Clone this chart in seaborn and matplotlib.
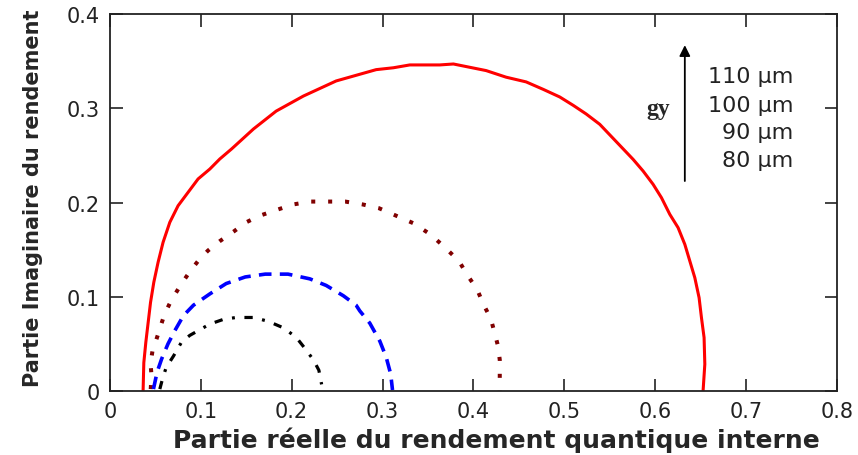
import matplotlib
matplotlib.use("Agg")
import matplotlib.pyplot as plt
import seaborn as sns
import pandas as pd
from matplotlib.ticker import FuncFormatter

# Nyquist-like arcs of the internal quantum efficiency for four base thicknesses
x_110 = [0.0366, 0.0374, 0.0396, 0.0422, 0.0448, 0.0484, 0.0531, 0.0586, 0.0660,
         0.0751, 0.0861, 0.0971, 0.1100, 0.1210, 0.1339, 0.158, 0.183, 0.213,
         0.249, 0.271, 0.293, 0.312, 0.330, 0.363, 0.378, 0.414, 0.436, 0.458,
         0.477, 0.495, 0.510, 0.524, 0.539, 0.5757, 0.5867,
         0.5977, 0.6069, 0.6161, 0.6252, 0.6326, 0.6381, 0.6436, 0.6483, 0.6509,
         0.6538, 0.6546, 0.6527]
y_110 = [0.0, 0.030, 0.0516, 0.0729, 0.0941, 0.1154, 0.1366, 0.1578, 0.1790,
         0.1966, 0.2108, 0.2250, 0.2355, 0.2462, 0.2568, 0.278, 0.297, 0.313,
         0.329, 0.335, 0.341, 0.343, 0.346, 0.346, 0.347, 0.340, 0.333, 0.328,
         0.320, 0.312, 0.303, 0.294, 0.283, 0.2458, 0.2334,
         0.2193, 0.2051, 0.1874, 0.1733, 0.1556, 0.1379, 0.1202, 0.0990, 0.0778,
         0.0566, 0.0284, 0.0003]

x_100 = [0.045, 0.0459, 0.0448, 0.047, 0.051, 0.056, 0.060, 0.066, 0.0726, 0.079,
         0.089, 0.098, 0.108, 0.121, 0.136, 0.150, 0.165, 0.183, 0.202, 0.221,
         0.240, 0.259, 0.278, 0.296, 0.315, 0.334, 0.353, 0.369, 0.384, 0.394,
         0.404, 0.411, 0.419, 0.423, 0.427, 0.429, 0.429, 0.429]
y_100 = [0.002, 0.016, 0.029, 0.043, 0.054, 0.069, 0.081, 0.093, 0.104, 0.114,
         0.128, 0.139, 0.149, 0.159, 0.169, 0.179, 0.186, 0.192, 0.198, 0.201,
         0.201, 0.201, 0.198, 0.194, 0.186, 0.178, 0.166, 0.152, 0.138, 0.122,
         0.108, 0.092, 0.077, 0.063, 0.048, 0.033, 0.018, 0.0]

x_90 = [0.048, 0.052, 0.057, 0.064, 0.0715, 0.081, 0.092, 0.110, 0.128, 0.149,
        0.171, 0.196, 0.220, 0.238, 0.257, 0.271, 0.275, 0.286, 0.297, 0.304,
        0.309, 0.311]
y_90 = [0.002, 0.020, 0.034, 0.050, 0.064, 0.080, 0.091, 0.103, 0.114, 0.121,
        0.124, 0.124, 0.119, 0.112, 0.101, 0.091, 0.085, 0.072, 0.053, 0.036,
        0.018, 0.001]

x_80 = [0.055, 0.058, 0.062, 0.070, 0.079, 0.088, 0.099, 0.110, 0.125, 0.139,
        0.158, 0.174, 0.191, 0.205, 0.214, 0.224, 0.230, 0.233]
y_80 = [0.002, 0.013, 0.025, 0.037, 0.052, 0.059, 0.065, 0.071, 0.076, 0.078,
        0.078, 0.074, 0.067, 0.057, 0.046, 0.033, 0.022, 0.007]

thickness_labels = ["110 µm", "100 µm", "90 µm", "80 µm"]
x_ticks = [0, 0.1, 0.2, 0.3, 0.4, 0.5, 0.6, 0.7, 0.8]
y_ticks = [0, 0.1, 0.2, 0.3, 0.4]

sns.set_style("ticks")
plt.rcParams["font.family"] = ["DejaVu Sans"]

fig = plt.figure(figsize=(8.58, 4.56), dpi=100)
ax = fig.add_axes([0.128, 0.1404, 0.8475, 0.8266])

curves = [
    (x_110, y_110, dict(color="#ff0000", linewidth=2.2, linestyle="-")),
    (x_100, y_100, dict(color="#800000", linewidth=2.9, linestyle=(0, (1, 3.2)),
                        dash_capstyle="butt")),
    (x_90, y_90, dict(color="#0000ff", linewidth=2.6, linestyle=(0, (3.5, 2.3)),
                      dash_capstyle="butt")),
    (x_80, y_80, dict(color="#000000", linewidth=2.3,
                      linestyle=(0, (2.6, 3.0, 0.9, 3.0)), dash_capstyle="butt")),
]
for xs, ys, style in curves:
    df = pd.DataFrame({"re": xs, "im": ys})
    sns.lineplot(data=df, x="re", y="im", sort=False, estimator=None,
                 errorbar=None, ax=ax, **style)

ax.set_xlim(0, 0.8)
ax.set_ylim(0, 0.4)
ax.set_xticks(x_ticks)
ax.set_yticks(y_ticks)
fmt = FuncFormatter(lambda v, p: "0" if abs(v) < 1e-9 else f"{v:g}")
ax.xaxis.set_major_formatter(fmt)
ax.yaxis.set_major_formatter(fmt)
ax.tick_params(direction="in", length=9, width=1.2, top=True, right=True,
               labelsize=15, colors="#222222", pad=7)
for s in ax.spines.values():
    s.set_visible(True)
    s.set_linewidth(1.3)
    s.set_color("#222222")

ax.set_xlabel("Partie réelle du rendement quantique interne", fontsize=18,
              fontweight="bold")
ax.xaxis.set_label_coords(0.532, -0.093)
ax.set_ylabel("Partie Imaginaire du rendement", fontsize=15, fontweight="bold")
ax.yaxis.set_label_coords(-0.092, 0.515)

# Arrow indicating increasing thickness
ax.annotate("", xy=(0.6326, 0.367), xytext=(0.6326, 0.2228),
            arrowprops=dict(arrowstyle="-|>", color="black", lw=1.3,
                            mutation_scale=16, shrinkA=0, shrinkB=0))
for lab, yy in zip(thickness_labels, [0.334, 0.303, 0.275, 0.245]):
    ax.text(0.752, yy, lab, ha="right", va="center", fontsize=16, color="#222222")
ax.text(0.603, 0.300, "gy", ha="center", va="center", fontsize=17,
        fontweight="bold", family=["Liberation Serif", "DejaVu Serif"])

fig.savefig("out.png", dpi=100)
